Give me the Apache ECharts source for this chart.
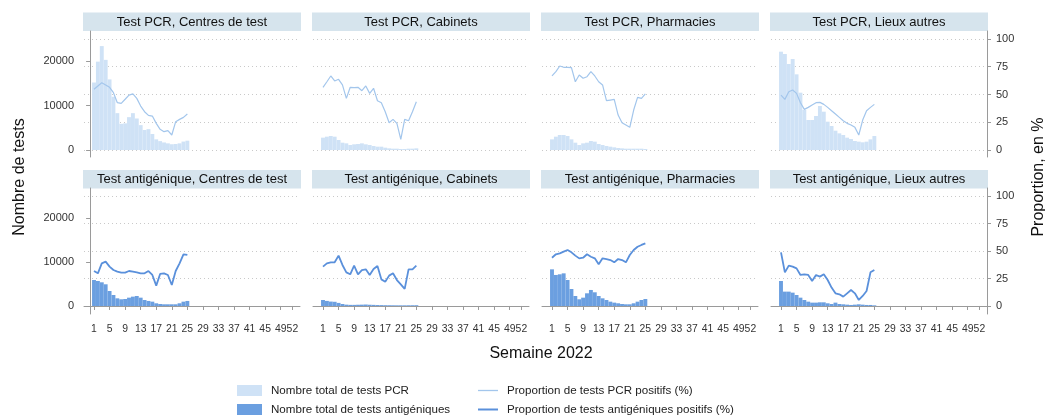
<!DOCTYPE html>
<html><head><meta charset="utf-8">
<script src="https://cdn.jsdelivr.net/npm/echarts@6/dist/echarts.min.js"></script>
<style>html,body{margin:0;padding:0;background:#fff}#chart{width:1045px;height:416px}</style>
</head><body><div id="chart"></div>
<script>
// ---- data ----
const weeks = [1,2,3,4,5,6,7,8,9,10,11,12,13,14,15,16,17,18,19,20,21,22,23,24,25];
const weekTicks = [1,5,9,13,17,21,25,29,33,37,41,45,49,52];
const countTicks = [0,10000,20000];
const pctTicks = [0,25,50,75,100];
const panelTitles = [
  'Test PCR, Centres de test','Test PCR, Cabinets','Test PCR, Pharmacies','Test PCR, Lieux autres',
  'Test antigénique, Centres de test','Test antigénique, Cabinets','Test antigénique, Pharmacies','Test antigénique, Lieux autres'
];
const seriesNames = {
  pcrBar: 'Nombre total de tests PCR',
  agBar: 'Nombre total de tests antigéniques',
  pcrLine: 'Proportion de tests PCR positifs (%)',
  agLine: 'Proportion de tests antigéniques positifs (%)'
};

const pcrTotalCentres = [15200,19900,23400,20300,15900,12000,8300,5900,6000,7400,8300,7100,5600,4500,4700,3600,2400,2000,1700,1500,1300,1350,1500,1900,2100];
const pcrPosCentres = [54.7,57.7,60.6,58.6,56.5,51.6,42.6,42,45.7,49.5,50.5,46.5,39.6,34.5,31.2,30.6,24,18.6,16.5,17.4,13.5,25.5,27.6,29.4,32.4];

const pcrTotalCabinets = [2780,3000,3150,3000,2250,1650,1500,1130,1280,1350,1500,1280,1130,900,750,750,525,375,300,300,225,225,300,300,375];
const pcrPosCabinets = [56.5,61.5,66.7,62.2,63.7,58.6,46.5,56.5,56.2,56.5,53.4,57.7,51,55.6,44.4,42.6,34.5,24.6,27.6,24,9.6,27.6,26.4,34.5,43.5];

const pcrTotalPharmacies = [2400,3000,3380,3380,3150,2400,1650,1130,1500,1650,2030,1880,1350,1130,900,750,600,450,375,300,300,300,300,300,225];
const pcrPosPharmacies = [66.7,70.6,75.7,74.5,74.5,74.2,61.5,67.6,64.6,66,70.6,66.7,61.5,58.6,44.4,45,45.6,31.5,24.6,22.5,20.4,36,47.4,46.5,50.5];

const pcrTotalAutres = [22140,21620,19370,20490,17040,12910,9010,6760,6760,7660,9910,8630,6380,5400,4350,3750,3380,2780,2480,2030,1880,1730,1880,2400,3150];
const pcrPosAutres = [49.5,45.6,52.5,54,51,42.6,36.6,38.4,40.5,42.6,42.9,41.1,38.4,35.4,32.4,29.4,26.4,24,22.5,20.4,13.5,27,35.4,38.4,41.1];

const agTotalCentres = [5910,5680,5380,4930,3410,2500,1740,1520,1590,1890,2120,2270,1890,1360,1140,980,610,450,380,380,380,380,610,980,1140];
const agPosCentres = [31.8,29.7,38.8,40.3,35.8,32.7,31.2,30.3,30.3,31.8,31.2,30.6,29.7,29.7,31.8,28.2,18.5,29.1,29.7,28.2,19.1,31.8,38.8,47,46.4];

const agTotalCabinets = [1360,1150,1000,950,700,450,300,250,250,280,300,330,280,250,220,200,180,170,160,150,150,150,160,170,180];
const agPosCabinets = [35.8,38.8,39.7,39.7,45.8,37.3,30.6,28.8,36.7,28.8,32.7,33.3,28.2,33.6,36.4,24.2,22.1,27.6,29.7,23.6,19.7,15.5,33.3,33.3,36.7];

const agTotalPharmacies = [8330,7050,7200,7420,5910,3860,2270,1520,1890,2880,3640,3110,2270,1740,1360,980,760,610,450,380,380,610,980,1360,1590];
const agPosPharmacies = [43.9,47,47.9,49.4,50.9,48.8,45.8,43.3,43.9,47,44.8,43.3,37.9,43.3,42.7,41.8,39.7,42.7,41.8,39.7,46.4,50.9,53.9,55.5,57];

const agTotalAutres = [5680,3260,3260,3030,2500,1890,1360,980,760,760,830,830,610,450,760,450,380,300,230,300,380,300,230,230,150];
const agPosAutres = [48.8,30.6,36.7,35.8,34.2,28.2,28.8,28.2,22.7,28.2,26.7,28.8,23.6,16.7,11.5,10.6,8.5,11.5,14.5,11.5,5.5,9.1,13.6,30.6,32.7];

const panelTotals = [pcrTotalCentres,pcrTotalCabinets,pcrTotalPharmacies,pcrTotalAutres,agTotalCentres,agTotalCabinets,agTotalPharmacies,agTotalAutres];
const panelPos = [pcrPosCentres,pcrPosCabinets,pcrPosPharmacies,pcrPosAutres,agPosCentres,agPosCabinets,agPosPharmacies,agPosAutres];

// ---- layout / style ----
const FONT = 'Liberation Sans, Arial, sans-serif';
const colLeft = [84,313,542,771];
const rowTop = [31,188];
const gridW = 216, gridH = 126;
const rowExt = [
  {pMin:-6.3, pMax:107.2},
  {pMin:-7.3, pMax:107.3}
];
const COUNT_PER_PCT = 250;
const colors = {pcrBar:'#cfe2f6', pcrLine:'#a3c6ec', agBar:'#6b9fe0', agLine:'#5a90db'};
const axisGray = '#9a9a9a';

const grid = [], xAxis = [], yAxis = [], series = [], graphic = [];
for (let i = 0; i < 8; i++) {
  const r = Math.floor(i / 4), c = i % 4;
  const isPcr = r === 0;
  grid.push({left: colLeft[c], top: rowTop[r], width: gridW, height: gridH, outerBoundsMode: 'none', containLabel: false});
  xAxis.push({
    type: 'value', gridIndex: i, min: -1.57, max: 53.96,
    show: r === 1,
    axisLine: {show: true, lineStyle: {color: axisGray, width: 1}},
    axisTick: {show: true, length: 4, customValues: weekTicks, lineStyle: {color: axisGray}},
    axisLabel: {show: true, customValues: weekTicks, fontSize: 10.4, color: '#333', fontFamily: FONT, margin: 10, hideOverlap: false,
                formatter: v => String(v)},
    splitLine: {show: false}
  });
  const ext = rowExt[r];
  // left: counts
  yAxis.push({
    type: 'value', gridIndex: i, position: 'left',
    min: ext.pMin * COUNT_PER_PCT, max: ext.pMax * COUNT_PER_PCT,
    show: c === 0,
    axisLine: {show: true, lineStyle: {color: axisGray}},
    axisTick: {show: true, length: 4, customValues: countTicks, lineStyle: {color: axisGray}},
    axisLabel: {show: true, customValues: countTicks, fontSize: 11, color: '#333', fontFamily: FONT, margin: 10,
                formatter: v => String(v)},
    splitLine: {show: false}
  });
  // right: percent
  yAxis.push({
    type: 'value', gridIndex: i, position: 'right',
    min: ext.pMin, max: ext.pMax,
    axisLine: {show: c === 3, lineStyle: {color: axisGray}},
    axisTick: {show: c === 3, length: 4, customValues: pctTicks, lineStyle: {color: axisGray}},
    axisLabel: {show: c === 3, customValues: pctTicks, fontSize: 11, color: '#333', fontFamily: FONT, margin: 9,
                formatter: v => String(v)},
    splitLine: {show: true, lineStyle: {color: '#c9c9c9', type: [1, 3], width: 1}}
  });
  series.push({
    type: 'bar', name: isPcr ? seriesNames.pcrBar : seriesNames.agBar,
    xAxisIndex: i, yAxisIndex: 2 * i, barWidth: 3.9,
    itemStyle: {color: isPcr ? colors.pcrBar : colors.agBar},
    data: weeks.map((w, k) => [w, panelTotals[i][k]])
  });
  series.push({
    type: 'line', name: isPcr ? seriesNames.pcrLine : seriesNames.agLine,
    xAxisIndex: i, yAxisIndex: 2 * i + 1, symbol: 'none',
    lineStyle: {color: isPcr ? colors.pcrLine : colors.agLine, width: isPcr ? 1.2 : 1.8},
    itemStyle: {color: isPcr ? colors.pcrLine : colors.agLine},
    data: weeks.map((w, k) => [w, panelPos[i][k]])
  });
  // strip header
  const sy = r === 0 ? 12.5 : 170;
  graphic.push({type: 'rect', shape: {x: colLeft[c] - 1, y: sy, width: gridW + 2, height: 18.5}, style: {fill: '#d6e4ed'}, silent: true});
  graphic.push({type: 'text', x: colLeft[c] + gridW / 2, y: sy + 9.5, style: {text: panelTitles[i], align: 'center', verticalAlign: 'middle', fontSize: 13, fontFamily: FONT, fill: '#111'}, silent: true});
}
graphic.push({type: 'text', x: 20, y: 177, rotation: Math.PI / 2, style: {text: 'Nombre de tests', align: 'center', verticalAlign: 'middle', fontSize: 16, fontFamily: FONT, fill: '#111'}});
graphic.push({type: 'text', x: 1039, y: 177, rotation: Math.PI / 2, style: {text: 'Proportion, en %', align: 'center', verticalAlign: 'middle', fontSize: 16, fontFamily: FONT, fill: '#111'}});
graphic.push({type: 'text', x: 541, y: 354, style: {text: 'Semaine 2022', align: 'center', verticalAlign: 'middle', fontSize: 16, fontFamily: FONT, fill: '#111'}});

function oneLegend(name, left, top, w, h) {
  return {data: [name], left: left, top: top, padding: 0, orient: 'horizontal',
          itemWidth: w, itemHeight: h, icon: 'rect', selectedMode: false,
          textStyle: {fontSize: 11.6, color: '#222', fontFamily: FONT, lineHeight: 14, padding: [0, 0, 0, 4]}};
}

const chart = echarts.init(document.getElementById('chart'), null, {renderer: 'canvas'});
chart.setOption({
  animation: false,
  backgroundColor: '#fff',
  grid, xAxis, yAxis, series, graphic,
  legend: [
    oneLegend(seriesNames.pcrBar, 237, 383.5, 25, 11),
    oneLegend(seriesNames.agBar, 237, 402.5, 25, 11),
    oneLegend(seriesNames.pcrLine, 478, 383.5, 20, 1.3),
    oneLegend(seriesNames.agLine, 478, 402.5, 20, 2)
  ]
});
</script></body></html>
